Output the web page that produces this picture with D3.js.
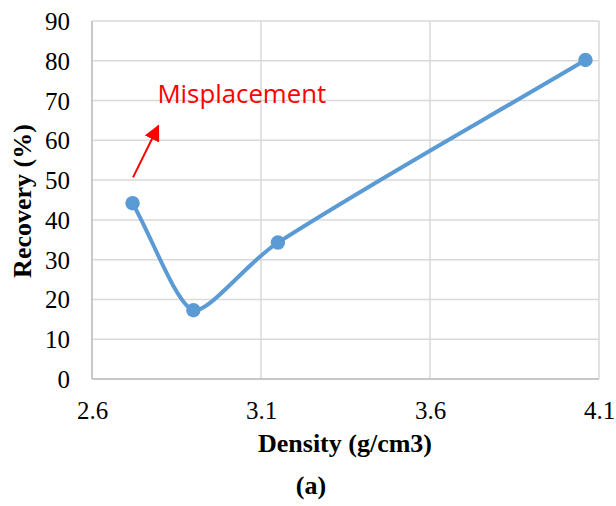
<!DOCTYPE html>
<html>
<head>
<meta charset="utf-8">
<script src="https://cdn.jsdelivr.net/npm/d3@7"></script>
<style>
  body { margin: 0; background: #fff; }
  svg { display: block; }
</style>
</head>
<body>
<svg id="chart" width="616" height="506"></svg>
<script>
// density (g/cm3) vs recovery (%)
const density = [2.72, 2.9, 3.15, 4.06];
const recovery = [44.2, 17.3, 34.3, 80.2];
const xTicks = [2.6, 3.1, 3.6, 4.1];
const yTicks = [0, 10, 20, 30, 40, 50, 60, 70, 80, 90];
const annotation = "Misplacement";

const svg = d3.select("#chart");
const margin = {left: 92, top: 21, right: 17, bottom: 127};
const width = 616, height = 506;

const x = d3.scaleLinear().domain([2.6, 4.1]).range([margin.left, width - margin.right]);
const y = d3.scaleLinear().domain([0, 90]).range([height - margin.bottom, margin.top]);

const serif = "'Liberation Serif', 'Times New Roman', serif";
const gridColor = "#d9d9d9";

// smoothing roughly like excel: catmull-rom tangents, arms shortened at sharp turns
function ExcelCurve(context) { this._context = context; }
ExcelCurve.prototype = {
    areaStart() {}, areaEnd() {},
    lineStart() { this._pts = []; },
    point(px, py) { this._pts.push([+px, +py]); },
    lineEnd() {
        const p = this._pts, n = p.length, c = this._context;
        if (!n) return;
        c.moveTo(p[0][0], p[0][1]);
        if (n < 3) { if (n === 2) c.lineTo(p[1][0], p[1][1]); return; }
        const unit = (a, b) => {
            const dx = b[0] - a[0], dy = b[1] - a[1], l = Math.hypot(dx, dy) || 1;
            return [dx / l, dy / l];
        };
        const tan = p.map((pt, i) => {
            const u = unit(p[Math.max(i - 1, 0)], p[Math.min(i + 1, n - 1)]);
            let k = 1;
            if (i > 0 && i < n - 1) {
                const a = unit(p[i - 1], pt), b = unit(pt, p[i + 1]);
                k = (1 + a[0] * b[0] + a[1] * b[1]) / 2;
            }
            return [u[0], u[1], k];
        });
        for (let i = 0; i < n - 1; i++) {
            const a = p[i], b = p[i + 1], ta = tan[i], tb = tan[i + 1];
            const L = Math.hypot(b[0] - a[0], b[1] - a[1]) / 3;
            c.bezierCurveTo(
                a[0] + ta[0] * L * ta[2], a[1] + ta[1] * L * ta[2],
                b[0] - tb[0] * L * tb[2], b[1] - tb[1] * L * tb[2],
                b[0], b[1]);
        }
    }
};
const curveExcel = ctx => new ExcelCurve(ctx);

// gridlines
const grid = svg.append("g");
grid.selectAll("line.h").data(yTicks).join("line")
    .attr("x1", x(2.6)).attr("x2", x(4.1))
    .attr("y1", d => y(d)).attr("y2", d => y(d))
    .attr("stroke", gridColor).attr("stroke-width", 1.5);
grid.selectAll("line.v").data(xTicks).join("line")
    .attr("x1", d => x(d)).attr("x2", d => x(d))
    .attr("y1", y(0)).attr("y2", y(90))
    .attr("stroke", gridColor).attr("stroke-width", 1.5);

// axes (labels only, lines come from the grid)
const yAxis = svg.append("g")
    .attr("transform", `translate(${x(2.6)},0)`)
    .call(d3.axisLeft(y).tickValues(yTicks).tickSize(0).tickPadding(22));
const xAxis = svg.append("g")
    .attr("transform", `translate(0,${y(0)})`)
    .call(d3.axisBottom(x).tickValues(xTicks).tickSize(0).tickPadding(22)
        .tickFormat(d3.format(".1f")));
[yAxis, xAxis].forEach(a => {
    a.select(".domain").remove();
    a.selectAll("text")
        .attr("font-family", serif)
        .attr("font-size", 25)
        .attr("fill", "#000");
});
yAxis.selectAll("text").attr("dy", "0.34em");
xAxis.selectAll("text").attr("dy", "0.7em");

// left and bottom axis lines a bit darker
svg.append("line").attr("x1", x(2.6)).attr("x2", x(2.6)).attr("y1", y(0)).attr("y2", y(90))
    .attr("stroke", "#bfbfbf").attr("stroke-width", 1.5);
svg.append("line").attr("x1", x(2.6)).attr("x2", x(4.1)).attr("y1", y(0)).attr("y2", y(0))
    .attr("stroke", "#bfbfbf").attr("stroke-width", 1.5);

// series
const pts = density.map((d, i) => [d, recovery[i]]);
const line = d3.line()
    .x(d => x(d[0])).y(d => y(d[1]))
    .curve(curveExcel);

svg.append("path")
    .attr("d", line(pts))
    .attr("fill", "none")
    .attr("stroke", "#5b9bd5")
    .attr("stroke-width", 4)
    .attr("stroke-linejoin", "round");

svg.selectAll("circle.pt").data(pts).join("circle")
    .attr("class", "pt")
    .attr("cx", d => x(d[0])).attr("cy", d => y(d[1]))
    .attr("r", 7.2)
    .attr("fill", "#5b9bd5");

// annotation arrow + label
svg.append("defs").append("marker")
    .attr("id", "head")
    .attr("viewBox", "0 0 10 10")
    .attr("refX", 9).attr("refY", 5)
    .attr("markerWidth", 16).attr("markerHeight", 16)
    .attr("markerUnits", "userSpaceOnUse")
    .attr("orient", "auto")
  .append("path")
    .attr("d", "M0,0 L10,5 L0,10 Z")
    .attr("fill", "#ff0000");

svg.append("line")
    .attr("x1", x(2.7214)).attr("y1", y(50.7))
    .attr("x2", x(2.7963)).attr("y2", y(63.6))
    .attr("stroke", "#ff0000")
    .attr("stroke-width", 2)
    .attr("marker-end", "url(#head)");

svg.append("text")
    .attr("x", x(2.7935)).attr("y", y(69.3))
    .attr("font-family", "'Open Sans', sans-serif")
    .attr("font-size", 25.8)
    .attr("fill", "#ff0000")
    .text(annotation);

// axis titles
svg.append("text")
    .attr("x", 345).attr("y", 452)
    .attr("text-anchor", "middle")
    .attr("font-family", serif)
    .attr("font-weight", "bold")
    .attr("font-size", 26)
    .text("Density (g/cm3)");

svg.append("text")
    .attr("transform", "translate(31,201) rotate(-90)")
    .attr("text-anchor", "middle")
    .attr("font-family", serif)
    .attr("font-weight", "bold")
    .attr("font-size", 26)
    .text("Recovery (%)");

svg.append("text")
    .attr("x", 311).attr("y", 494)
    .attr("text-anchor", "middle")
    .attr("font-family", serif)
    .attr("font-weight", "bold")
    .attr("font-size", 26)
    .text("(a)");
</script>
</body>
</html>
